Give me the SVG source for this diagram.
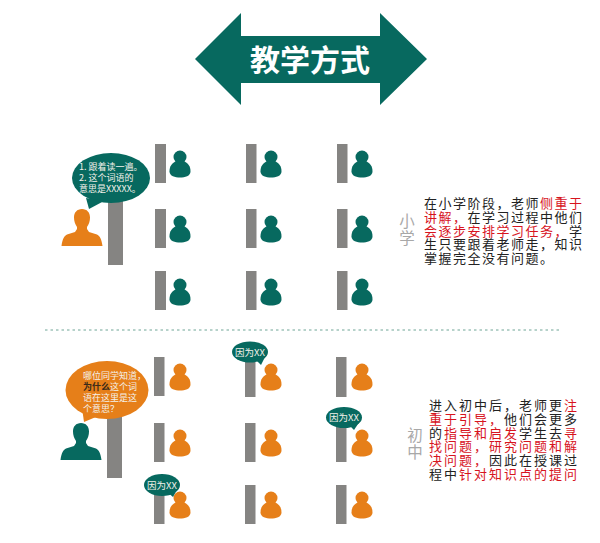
<svg xmlns="http://www.w3.org/2000/svg" width="600" height="543" viewBox="0 0 600 543">
<style>
text{font-family:"Noto Sans CJK SC","Liberation Sans",sans-serif}
.bar{fill:#858482}
.t{fill:#07695f}
.o{fill:#e67f19}
.w{fill:#f4f1ea}
.b{font-size:9px}
.s{font-size:9.5px}
.d{font-size:13px;fill:#222;letter-spacing:1.5px}
.e{font-size:13px;fill:#222;letter-spacing:2px}
.r{fill:#d7141e}
.g{font-size:15.5px;fill:#a8a8a8;text-anchor:middle}
</style>
<defs>
<g id="st"><circle cx="0" cy="0" r="6.500"/><path d="M-3.500 4C-8 6-10.500 9-10.500 14.500C-10.500 19-5 20.500 0 20.500C5 20.500 10.500 19 10.500 14.500C10.500 9 8 6 3.500 4Z"/></g>
<path id="te" d="M0 0C5 0 8 3.500 8 8.500C8 12 7 15 5 18L5 20L7 23L15 25.500C18 27 19.500 30 20.500 37L-20.500 37C-19.500 30-18 27-15 25.500L-7 23L-5 20L-5 18C-7 15-8 12-8 8.500C-8 3.500-5 0 0 0Z"/>
</defs>
<g id="title">
<path class="t" d="M195 59L241 13V36H380V13L427 59L380 105V83H241V105Z"/>
<text x="310" y="71" font-size="30" font-weight="700" fill="#fff" text-anchor="middle">教学方式</text>
</g>
<g id="upper-desks">
<rect class="bar" x="155" y="144" width="11" height="39"/>
<rect class="bar" x="155" y="209" width="11" height="39"/>
<rect class="bar" x="155" y="271" width="11" height="39"/>
<rect class="bar" x="246" y="144" width="10.500" height="39"/>
<rect class="bar" x="246" y="209" width="10.500" height="39"/>
<rect class="bar" x="246" y="271" width="10.500" height="39"/>
<rect class="bar" x="337" y="144" width="10.500" height="39"/>
<rect class="bar" x="337" y="209" width="10.500" height="39"/>
<rect class="bar" x="337" y="271" width="10.500" height="39"/>
<rect class="bar" x="108" y="195" width="15" height="70"/>
</g>
<g id="upper-students" class="t">
<use href="#st" x="180" y="157"/><use href="#st" x="180" y="222"/><use href="#st" x="180" y="285"/>
<use href="#st" x="271" y="157"/><use href="#st" x="271" y="222"/><use href="#st" x="271" y="285"/>
<use href="#st" x="362" y="157"/><use href="#st" x="362" y="222"/><use href="#st" x="362" y="285"/>
</g>
<g id="upper-teacher">
<use href="#te" class="o" x="82" y="209"/>
<ellipse class="t" cx="111" cy="178" rx="39" ry="25"/>
<path class="t" d="M86 198L89 209L104 201Z"/>
<text class="b w" x="79" y="170">1. 跟着读一遍。<tspan x="79" dy="11">2. 这个词语的</tspan><tspan x="79" dy="11">意思是XXXXX。</tspan></text>
</g>
<g id="upper-text">
<text class="g" x="407" y="227">小<tspan x="407" dy="17">学</tspan></text>
<text class="d" x="424" y="208">在小学阶段，老师<tspan class="r">侧重于</tspan><tspan x="424" dy="13.800" class="r">讲解，</tspan>在学习过程中他们<tspan x="424" dy="13.800" class="r">会逐步安排学习任务，</tspan>学<tspan x="424" dy="13.800">生只要跟着老师走，知识</tspan><tspan x="424" dy="13.800">掌握完全没有问题。</tspan></text>
</g>
<path id="divider" d="M45 330H561" fill="none" stroke="#6fa596" stroke-width="1" stroke-dasharray="2.500 3"/>
<g id="lower-desks">
<rect class="bar" x="154" y="357" width="10.500" height="39"/>
<rect class="bar" x="154" y="423" width="10.500" height="39"/>
<rect class="bar" x="154" y="485" width="10.500" height="39"/>
<rect class="bar" x="245" y="357" width="10.500" height="40"/>
<rect class="bar" x="245" y="423" width="10.500" height="39"/>
<rect class="bar" x="245" y="485" width="10.500" height="39"/>
<rect class="bar" x="336" y="357" width="10.500" height="40"/>
<rect class="bar" x="336" y="423" width="10.500" height="39"/>
<rect class="bar" x="336" y="485" width="10.500" height="39"/>
<rect class="bar" x="107" y="410" width="15" height="68"/>
</g>
<g id="lower-students" class="o">
<use href="#st" x="180" y="370"/><use href="#st" x="180" y="436"/><use href="#st" x="180" y="498"/>
<use href="#st" x="271" y="370"/><use href="#st" x="271" y="436"/><use href="#st" x="271" y="498"/>
<use href="#st" x="362" y="370"/><use href="#st" x="362" y="436"/><use href="#st" x="362" y="498"/>
</g>
<g id="lower-teacher">
<use href="#te" class="t" x="81" y="423"/>
<ellipse class="o" cx="107" cy="390" rx="41.500" ry="29"/>
<path class="o" d="M82 408L84 422L103 414Z"/>
<text class="b w" x="83" y="379">哪位同学知道，<tspan x="83" dy="11" fill="#3a2a1a" font-weight="700">为什么</tspan>这个词<tspan x="83" dy="11">语在这里是这</tspan><tspan x="83" dy="11">个意思？</tspan></text>
</g>
<g id="answer-1">
<ellipse class="t" cx="250" cy="352" rx="18" ry="10.500"/>
<path class="t" d="M254 358L261 365L266 355Z"/>
<text class="s w" x="250" y="355.500" text-anchor="middle">因为XX</text>
</g>
<g id="answer-2">
<ellipse class="t" cx="344" cy="417.500" rx="18" ry="10.500"/>
<path class="t" d="M348 424L354 430L360 421Z"/>
<text class="s w" x="344" y="421" text-anchor="middle">因为XX</text>
</g>
<g id="answer-3">
<ellipse class="t" cx="162" cy="485" rx="18" ry="11"/>
<path class="t" d="M166 491L173 497L178 488Z"/>
<text class="s w" x="162" y="488.500" text-anchor="middle">因为XX</text>
</g>
<g id="lower-text">
<text class="g" x="415" y="441">初<tspan x="415" dy="17">中</tspan></text>
<text class="e" x="429" y="410">进入初中后，老师更<tspan class="r">注</tspan><tspan x="429" dy="13.800" class="r">重于引导，</tspan>他们会更多<tspan x="429" dy="13.800">的</tspan><tspan class="r">指导和启发</tspan>学生去<tspan class="r">寻</tspan><tspan x="429" dy="13.800" class="r">找问题，研究问题和解</tspan><tspan x="429" dy="13.800" class="r">决问题，</tspan>因此在授课过<tspan x="429" dy="13.800">程中</tspan><tspan class="r">针对知识点的提问</tspan></text>
</g>
</svg>
